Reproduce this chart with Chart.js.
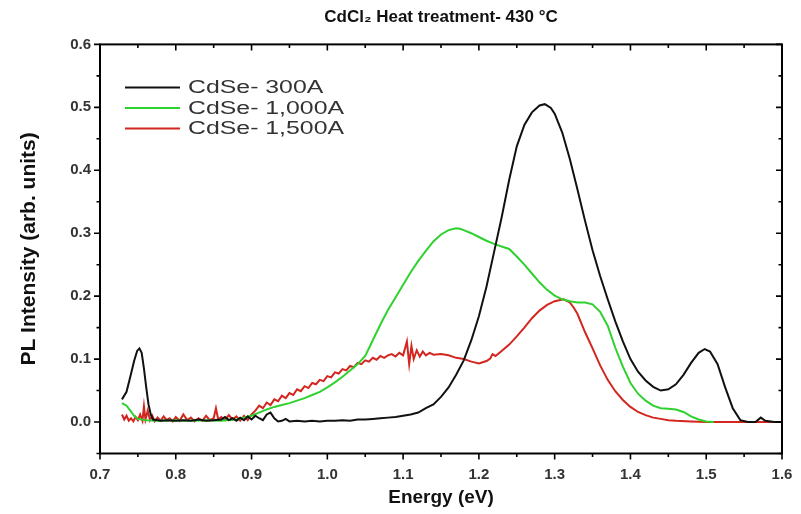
<!DOCTYPE html>
<html>
<head>
<meta charset="utf-8">
<script src="https://cdn.jsdelivr.net/npm/chart.js@4.4.1/dist/chart.umd.min.js"></script>
<style>
  html, body { margin: 0; padding: 0; background: #ffffff; }
  #wrap { width: 801px; height: 514px; }
</style>
</head>
<body>
<div id="wrap"><canvas id="c" width="801" height="514"></canvas></div>
<script>
// ---------- data ----------
const seriesNames = ['CdSe- 300A', 'CdSe- 1,000A', 'CdSe- 1,500A'];
const seriesColors = ['#111111', '#2fd12f', '#d2261f'];

const xTicks = [0.7, 0.8, 0.9, 1.0, 1.1, 1.2, 1.3, 1.4, 1.5, 1.6];
const yTicks = [0.0, 0.1, 0.2, 0.3, 0.4, 0.5, 0.6];

const blackE = [0.729,0.735,0.740,0.745,0.749,0.752,0.755,0.758,0.761,0.764,
  0.767,0.770,0.780,0.790,0.800,0.810,0.820,0.830,0.840,0.850,
  0.860,0.865,0.870,0.875,0.880,0.885,0.890,0.895,0.900,0.905,
  0.910,0.915,0.920,0.925,0.930,0.935,0.940,0.945,0.950,0.960,
  0.970,0.980,0.990,1.000,1.010,1.020,1.030,1.040,1.050,1.060,
  1.070,1.080,1.090,1.100,1.110,1.120,1.130,1.140,1.150,1.160,
  1.170,1.180,1.190,1.200,1.210,1.220,1.230,1.240,1.250,1.260,
  1.270,1.280,1.287,1.295,1.300,1.310,1.320,1.330,1.340,1.350,
  1.360,1.370,1.380,1.390,1.400,1.410,1.420,1.430,1.440,1.450,
  1.460,1.470,1.480,1.490,1.498,1.505,1.515,1.525,1.535,1.545,
  1.555,1.565,1.572,1.578,1.590,1.600];
const blackI = [0.036,0.048,0.072,0.097,0.113,0.117,0.110,0.085,0.055,0.028,
  0.012,0.004,0.002,0.003,0.002,0.003,0.002,0.004,0.002,0.003,
  0.004,0.008,0.003,0.006,0.002,0.007,0.003,0.009,0.004,0.010,
  0.006,0.003,0.012,0.015,0.006,0.001,0.002,0.005,0.001,0.002,
  0.001,0.002,0.001,0.002,0.002,0.003,0.002,0.004,0.004,0.005,
  0.006,0.007,0.008,0.010,0.012,0.015,0.022,0.028,0.040,0.055,
  0.075,0.098,0.130,0.168,0.215,0.270,0.325,0.385,0.438,0.472,
  0.492,0.503,0.505,0.499,0.490,0.460,0.418,0.370,0.320,0.273,
  0.232,0.195,0.160,0.128,0.100,0.080,0.066,0.056,0.050,0.052,
  0.060,0.075,0.094,0.110,0.116,0.112,0.092,0.055,0.022,0.003,
  0.000,0.000,0.007,0.002,0.000,0.000];

const greenE = [0.729,0.735,0.740,0.745,0.750,0.760,0.780,0.800,0.820,0.840,
  0.860,0.880,0.900,0.910,0.920,0.930,0.940,0.950,0.960,0.970,
  0.980,0.990,1.000,1.010,1.020,1.030,1.040,1.050,1.060,1.070,
  1.080,1.090,1.100,1.110,1.120,1.130,1.140,1.150,1.160,1.170,
  1.175,1.180,1.190,1.200,1.210,1.220,1.230,1.240,1.250,1.260,
  1.270,1.280,1.290,1.300,1.310,1.320,1.330,1.340,1.350,1.360,
  1.370,1.380,1.390,1.400,1.410,1.420,1.430,1.440,1.450,1.460,
  1.470,1.480,1.490,1.500,1.510];
const greenI = [0.030,0.026,0.018,0.010,0.005,0.003,0.002,0.003,0.002,0.003,
  0.002,0.004,0.010,0.015,0.020,0.024,0.027,0.030,0.034,0.038,
  0.043,0.048,0.055,0.063,0.072,0.082,0.092,0.105,0.130,0.155,
  0.178,0.198,0.218,0.238,0.256,0.272,0.287,0.298,0.305,0.308,
  0.307,0.305,0.300,0.294,0.288,0.283,0.279,0.275,0.263,0.250,
  0.236,0.222,0.210,0.201,0.195,0.192,0.190,0.190,0.187,0.175,
  0.153,0.118,0.088,0.062,0.045,0.034,0.026,0.022,0.021,0.020,
  0.016,0.009,0.004,0.001,0.000];

const redE = [0.729,0.732,0.735,0.738,0.741,0.744,0.747,0.750,0.753,0.756,
  0.758,0.760,0.763,0.766,0.769,0.772,0.776,0.780,0.784,0.788,
  0.792,0.796,0.800,0.805,0.810,0.815,0.820,0.825,0.830,0.835,
  0.840,0.845,0.850,0.853,0.856,0.860,0.865,0.870,0.875,0.880,
  0.885,0.890,0.895,0.900,0.905,0.910,0.915,0.920,0.925,0.930,
  0.935,0.940,0.945,0.950,0.955,0.960,0.965,0.970,0.975,0.980,
  0.985,0.990,0.995,1.000,1.005,1.010,1.015,1.020,1.025,1.030,
  1.035,1.040,1.045,1.050,1.055,1.060,1.065,1.070,1.075,1.080,
  1.085,1.090,1.095,1.100,1.105,1.108,1.111,1.114,1.118,1.122,
  1.126,1.130,1.135,1.140,1.150,1.160,1.170,1.180,1.190,1.200,
  1.210,1.215,1.218,1.222,1.230,1.240,1.250,1.260,1.270,1.280,
  1.290,1.300,1.312,1.320,1.325,1.330,1.340,1.350,1.360,1.370,
  1.380,1.390,1.400,1.410,1.420,1.430,1.440,1.450,1.460,1.480,
  1.500,1.600];
const redI = [0.012,0.004,0.010,0.002,0.006,0.001,0.008,0.003,0.012,0.002,
  0.025,0.004,0.018,0.003,0.010,0.001,0.007,0.002,0.009,0.003,
  0.006,0.001,0.008,0.002,0.012,0.003,0.007,0.001,0.006,0.002,
  0.010,0.003,0.006,0.022,0.004,0.008,0.003,0.011,0.004,0.009,
  0.002,0.010,0.003,0.012,0.018,0.026,0.022,0.031,0.027,0.036,
  0.033,0.042,0.038,0.046,0.043,0.052,0.049,0.057,0.054,0.062,
  0.060,0.067,0.065,0.073,0.071,0.079,0.077,0.084,0.082,0.089,
  0.087,0.094,0.092,0.098,0.096,0.102,0.099,0.105,0.102,0.106,
  0.108,0.104,0.110,0.106,0.128,0.092,0.121,0.100,0.114,0.104,
  0.112,0.106,0.110,0.107,0.108,0.106,0.102,0.100,0.096,0.093,
  0.097,0.101,0.108,0.105,0.113,0.123,0.136,0.150,0.165,0.177,
  0.186,0.192,0.195,0.190,0.182,0.172,0.143,0.117,0.090,0.067,
  0.049,0.035,0.024,0.016,0.011,0.007,0.005,0.003,0.002,0.001,
  0.000,0.000];

const xRange = [0.7, 1.6];
const yRange = [-0.05, 0.6];

// ---------- helpers ----------
function pairs(xs, ys) { return xs.map((x, i) => ({ x: x, y: ys[i] })); }
function minorOf(major) {
  const out = [];
  for (let i = 0; i < major.length - 1; i++) out.push((major[i] + major[i + 1]) / 2);
  return out;
}

const FONT = '"Liberation Sans", Arial, Helvetica, sans-serif';

// frame + ticks (major & minor) on all four sides, and inline legend
const framePlugin = {
  id: 'frame',
  afterDraw(chart) {
    const { ctx, chartArea: a, scales } = chart;
    const xs = scales.x, ys = scales.y;
    ctx.save();
    ctx.strokeStyle = '#000';
    ctx.lineWidth = 2;
    ctx.strokeRect(a.left, a.top, a.right - a.left, a.bottom - a.top);
    ctx.lineWidth = 1.6;
    const MAJ = 6, MIN = 3.5;
    const xMinor = minorOf(xTicks);
    const yMinor = minorOf([-0.1].concat(yTicks)).filter(v => v >= yRange[0]);
    ctx.beginPath();
    xTicks.forEach(v => {
      const p = xs.getPixelForValue(v);
      ctx.moveTo(p, a.bottom); ctx.lineTo(p, a.bottom + MAJ);
      ctx.moveTo(p, a.top); ctx.lineTo(p, a.top + MAJ);
    });
    xMinor.forEach(v => {
      const p = xs.getPixelForValue(v);
      ctx.moveTo(p, a.bottom); ctx.lineTo(p, a.bottom + MIN);
      ctx.moveTo(p, a.top); ctx.lineTo(p, a.top + MIN);
    });
    yTicks.forEach(v => {
      const p = ys.getPixelForValue(v);
      ctx.moveTo(a.left, p); ctx.lineTo(a.left - MAJ, p);
      ctx.moveTo(a.right, p); ctx.lineTo(a.right - MAJ, p);
    });
    yMinor.forEach(v => {
      const p = ys.getPixelForValue(v);
      ctx.moveTo(a.left, p); ctx.lineTo(a.left - MIN, p);
      ctx.moveTo(a.right, p); ctx.lineTo(a.right - MIN, p);
    });
    ctx.stroke();

    // legend inside plot area (upper left)
    ctx.font = '18px ' + FONT;
    ctx.textBaseline = 'middle';
    ctx.textAlign = 'left';
    chart.data.datasets.forEach((ds, i) => {
      const y = a.top + 43 + i * 20.5;
      ctx.strokeStyle = ds.borderColor;
      ctx.lineWidth = 2;
      ctx.beginPath();
      ctx.moveTo(a.left + 25, y);
      ctx.lineTo(a.left + 80, y);
      ctx.stroke();
      ctx.fillStyle = '#333';
      ctx.save();
      ctx.translate(a.left + 88, y + 1);
      ctx.scale(1.38, 1);
      ctx.fillText(ds.label, 0, 0);
      ctx.restore();
    });
    ctx.restore();
  }
};

const datasets = [
  { label: seriesNames[0], data: pairs(blackE, blackI), borderColor: seriesColors[0] },
  { label: seriesNames[1], data: pairs(greenE, greenI), borderColor: seriesColors[1] },
  { label: seriesNames[2], data: pairs(redE, redI), borderColor: seriesColors[2] }
].map(d => Object.assign(d, { borderWidth: 2, pointRadius: 0, tension: 0, fill: false }));

new Chart(document.getElementById('c'), {
  type: 'line',
  data: { datasets },
  plugins: [framePlugin],
  options: {
    responsive: false,
    animation: false,
    devicePixelRatio: 1,
    layout: { padding: { left: 0, right: 19, top: 0, bottom: 0 } },
    plugins: {
      legend: { display: false },
      tooltip: { enabled: false },
      title: {
        display: true,
        fullSize: false,
        text: 'CdCl\u2082 Heat treatment- 430 \u00B0C',
        color: '#111',
        font: { family: FONT, size: 17, weight: 'bold' },
        padding: { top: 7, bottom: 17 }
      }
    },
    scales: {
      x: {
        type: 'linear',
        min: xRange[0], max: xRange[1],
        afterBuildTicks: s => { s.ticks = xTicks.map(v => ({ value: v })); },
        afterFit: s => { s.height = 60.5; s.paddingLeft = 0; s.paddingRight = 0; },
        grid: { display: false, drawTicks: false },
        border: { display: false },
        ticks: {
          padding: 12,
          color: '#333',
          font: { family: FONT, size: 15, weight: 'bold' },
          callback: v => Number(v).toFixed(1),
          maxRotation: 0
        },
        title: {
          display: true, text: 'Energy (eV)', color: '#111',
          font: { family: FONT, size: 19, weight: 'bold' },
          padding: { top: 0, bottom: 5 }
        }
      },
      y: {
        type: 'linear',
        min: yRange[0], max: yRange[1],
        afterBuildTicks: s => { s.ticks = yTicks.map(v => ({ value: v })); },
        afterFit: s => { s.width = 100; s.paddingTop = 0; s.paddingBottom = 0; },
        grid: { display: false, drawTicks: false },
        border: { display: false },
        ticks: {
          padding: 9,
          color: '#333',
          font: { family: FONT, size: 15, weight: 'bold' },
          callback: v => Number(v).toFixed(1)
        },
        title: {
          display: true, text: 'PL Intensity (arb. units)', color: '#111',
          font: { family: FONT, size: 21, weight: 'bold' },
          padding: { top: 17, bottom: 0 }
        }
      }
    }
  }
});
</script>
</body>
</html>
